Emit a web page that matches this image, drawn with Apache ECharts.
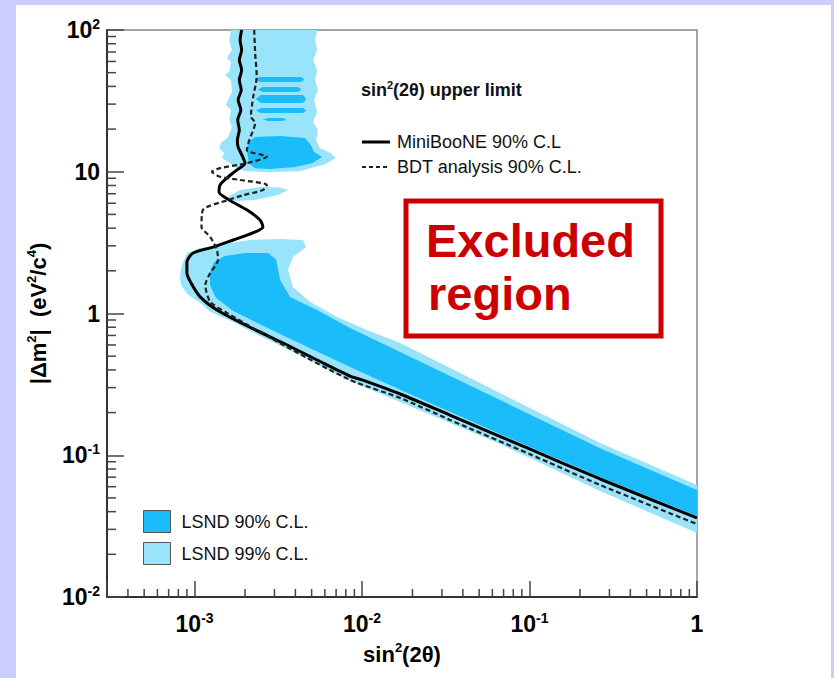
<!DOCTYPE html>
<html>
<head>
<meta charset="utf-8">
<script src="https://cdn.jsdelivr.net/npm/echarts@6/dist/echarts.min.js"></script>
<style>
  html, body { margin: 0; padding: 0; background: #ccccff; overflow: hidden; }
  #panel { position: absolute; left: 16px; top: 5px; width: 815px; height: 673px; background: #ffffff; }
  #chart { position: absolute; left: 0; top: 0; width: 834px; height: 678px; }
</style>
</head>
<body>
<div id="panel"></div>
<div id="chart"></div>
<script>
// Axis ranges: sin^2(2θ) and |Δm^2| in eV^2/c^4
const X_MIN = 3e-4, X_MAX = 1;
const Y_MIN = 0.01, Y_MAX = 100;

// Minor tick positions (2..9 within each decade)
const xMinorTicks = [4e-4, 5e-4, 6e-4, 7e-4, 8e-4, 9e-4,
  2e-3, 3e-3, 4e-3, 5e-3, 6e-3, 7e-3, 8e-3, 9e-3,
  0.02, 0.03, 0.04, 0.05, 0.06, 0.07, 0.08, 0.09,
  0.2, 0.3, 0.4, 0.5, 0.6, 0.7, 0.8, 0.9];
const yMinorTicks = [0.02, 0.03, 0.04, 0.05, 0.06, 0.07, 0.08, 0.09,
  0.2, 0.3, 0.4, 0.5, 0.6, 0.7, 0.8, 0.9,
  2, 3, 4, 5, 6, 7, 8, 9,
  20, 30, 40, 50, 60, 70, 80, 90];

// MiniBooNE 90% C.L. upper limit [sin^2(2θ), Δm^2]
const miniBooNE = [
  [1.91e-3, 100], [1.87e-3, 85], [1.91e-3, 72.3], [1.85e-3, 61.4], [1.91e-3, 52.2],
  [1.85e-3, 44.4], [1.90e-3, 37.7], [1.82e-3, 32.1], [1.89e-3, 27.3], [1.81e-3, 23.2],
  [1.85e-3, 19.7], [1.80e-3, 16.7], [1.82e-3, 14.95], [1.94e-3, 12.7], [2.00e-3, 11.5],
  [1.79e-3, 10.3], [1.585e-3, 9.18], [1.42e-3, 8.07], [1.40e-3, 7.20], [1.61e-3, 6.32],
  [2.06e-3, 5.37], [2.46e-3, 4.57], [2.56e-3, 4.08], [2.23e-3, 3.70], [1.70e-3, 3.30],
  [1.29e-3, 2.94], [0.98e-3, 2.67], [0.90e-3, 2.31], [0.90e-3, 1.93], [0.953e-3, 1.64],
  [1.08e-3, 1.31], [1.36e-3, 1.06], [2.14e-3, 0.80], [3.38e-3, 0.619], [5.39e-3, 0.470],
  [8.48e-3, 0.362], [1.0e-2, 0.340], [1.69e-2, 0.2705], [3.35e-2, 0.192], [0.1, 0.1107],
  [0.264, 0.0680], [1.0, 0.0361]
];

// BDT analysis 90% C.L. upper limit
const bdtAnalysis = [
  [2.27e-3, 100], [2.30e-3, 68.8], [2.35e-3, 46.9], [2.24e-3, 33.8], [2.17e-3, 24.5],
  [2.30e-3, 22.1], [2.12e-3, 16.7], [2.05e-3, 14.2], [2.70e-3, 12.8], [2.05e-3, 11.5],
  [1.42e-3, 10.6], [1.27e-3, 10.0], [1.42e-3, 9.23], [1.87e-3, 8.75], [2.70e-3, 8.07],
  [2.56e-3, 7.43], [1.96e-3, 6.85], [1.59e-3, 6.32], [1.12e-3, 5.37], [1.10e-3, 4.08],
  [1.24e-3, 3.47], [1.36e-3, 2.81], [1.38e-3, 2.39], [1.24e-3, 1.93], [1.16e-3, 1.59],
  [1.24e-3, 1.21], [1.56e-3, 1.01], [3.38e-3, 0.60], [8.48e-3, 0.340], [1.69e-2, 0.2535],
  [3.35e-2, 0.1774], [0.1, 0.102], [0.264, 0.0617], [1.0, 0.0327]
];

// LSND 99% C.L. allowed regions (polygon outlines)
const lsnd99Lower = [
  [8.19e-4, 1.78], [8.31e-4, 2.09], [8.66e-4, 2.39], [9.02e-4, 2.67], [1.079e-3, 2.90],
  [1.36e-3, 3.04], [2.14e-3, 3.30], [3.24e-3, 3.35], [4.45e-3, 3.30], [4.63e-3, 2.94],
  [3.87e-3, 2.50], [3.61e-3, 2.03], [3.87e-3, 1.54], [4.89e-3, 1.21], [7.09e-3, 0.945],
  [1.07e-2, 0.765], [1.69e-2, 0.619], [6.67e-2, 0.275], [0.264, 0.122], [1.0, 0.0617],
  [1.0, 0.0283], [0.264, 0.0560], [6.67e-2, 0.120], [1.69e-2, 0.2375], [8.48e-3, 0.334],
  [5.39e-3, 0.440], [3.38e-3, 0.580], [2.14e-3, 0.753], [1.70e-3, 0.871], [1.237e-3, 1.03],
  [1.079e-3, 1.19], [9.02e-4, 1.37], [8.31e-4, 1.59]
];
const lsnd99Upper = [
  [1.65e-3, 100], [1.61e-3, 85], [1.67e-3, 72.3], [1.56e-3, 63.4], [1.65e-3, 59.5],
  [1.61e-3, 50.6], [1.52e-3, 48.2], [1.65e-3, 44.4], [1.67e-3, 36.5], [1.585e-3, 32.1],
  [1.54e-3, 29.6], [1.65e-3, 27.3], [1.61e-3, 23.2], [1.67e-3, 20.4], [1.585e-3, 17.6],
  [1.44e-3, 15.95], [1.40e-3, 14.7], [1.50e-3, 13.6], [1.46e-3, 12.5], [1.63e-3, 11.5],
  [1.79e-3, 10.6], [2.00e-3, 10.1], [2.82e-3, 9.96], [4.27e-3, 10.1], [4.89e-3, 10.6],
  [6.01e-3, 11.3], [7.00e-3, 12.5], [6.44e-3, 13.6], [5.61e-3, 14.7], [5.31e-3, 16.7],
  [5.46e-3, 19.7], [5.10e-3, 22.4], [5.39e-3, 26.4], [5.17e-3, 32.1], [5.46e-3, 37.7],
  [5.24e-3, 44.4], [5.39e-3, 52.2], [5.10e-3, 61.4], [5.39e-3, 72.3], [5.24e-3, 85],
  [5.39e-3, 100]
];
const lsnd99Island = [
  [1.585e-3, 6.64], [1.87e-3, 7.43], [2.46e-3, 7.80], [3.24e-3, 7.74],
  [3.61e-3, 7.43], [3.15e-3, 6.85], [2.30e-3, 6.32], [1.75e-3, 6.22]
];

// LSND 90% C.L. allowed regions
const lsnd90Lower = [
  [1.237e-3, 1.59], [1.237e-3, 1.96], [1.31e-3, 2.31], [1.52e-3, 2.54], [2.00e-3, 2.67],
  [2.75e-3, 2.67], [3.07e-3, 2.39], [3.24e-3, 1.72], [3.72e-3, 1.31], [5.39e-3, 1.06],
  [8.48e-3, 0.790], [1.69e-2, 0.535], [6.67e-2, 0.245], [0.264, 0.112], [1.0, 0.0569],
  [1.0, 0.0373], [0.264, 0.0703], [6.67e-2, 0.141], [1.69e-2, 0.290], [8.48e-3, 0.420],
  [3.38e-3, 0.700], [1.70e-3, 1.04], [1.34e-3, 1.29]
];
const lsnd90Blob = [
  [2.08e-3, 16.2], [2.30e-3, 17.6], [3.24e-3, 17.9], [4.57e-3, 17.3], [4.96e-3, 15.4],
  [5.17e-3, 13.8], [5.77e-3, 12.7], [5.03e-3, 11.5], [3.98e-3, 10.8], [2.82e-3, 10.46],
  [2.30e-3, 10.6], [2.11e-3, 11.5], [2.06e-3, 13.8]
];
// narrow bands: [sin2 low, sin2 high, dm2 low, dm2 high]
const lsnd90Stripes = [
  [2.36e-3, 4.45e-3, 42.9, 46.6],
  [2.46e-3, 4.27e-3, 36.5, 39.6],
  [2.39e-3, 4.57e-3, 30.5, 34.8],
  [2.39e-3, 4.57e-3, 26.0, 28.2],
  [2.64e-3, 3.47e-3, 22.8, 23.9]
];

const FONT = '"Liberation Sans", Arial, Helvetica, sans-serif';
const COLOR_90 = '#1abcfa';
const COLOR_99 = '#99e4fa';

const regions99 = [lsnd99Lower, lsnd99Upper, lsnd99Island];
// stripes become slim hexagons with pointed ends
const regions90 = [lsnd90Lower, lsnd90Blob].concat(
  lsnd90Stripes.map(([x1, x2, y1, y2]) => {
    const ym = Math.sqrt(y1 * y2);
    return [[x1 * 0.97, ym], [x1 * 1.04, y2], [x2 * 0.97, y2], [x2 * 1.02, ym], [x2 * 0.97, y1], [x1 * 1.04, y1]];
  })
);

const tickMarks = xMinorTicks.map(v => [v, Y_MIN, 0])
  .concat(yMinorTicks.map(v => [X_MIN, v, 1]));

function powerLabel(v) {
  const lg = Math.log10(v);
  const e = Math.round(lg);
  if (Math.abs(lg - e) > 1e-6) return '';
  if (e === 0) return '{b|1}';
  if (e === 1) return '{b|10}';
  return '{b|10}{s|' + e + '}';
}

const labelRich = {
  b: { fontFamily: FONT, fontSize: 23, fontWeight: 'bold', color: '#000', lineHeight: 26 },
  s: { fontFamily: FONT, fontSize: 14, fontWeight: 'bold', color: '#000', verticalAlign: 'top', lineHeight: 16 }
};
const nameRich = {
  b: { fontFamily: FONT, fontSize: 22, fontWeight: 'bold', color: '#000', lineHeight: 26 },
  s: { fontFamily: FONT, fontSize: 13, fontWeight: 'bold', color: '#000', verticalAlign: 'top', lineHeight: 15 }
};

function regionRenderer(regions, color) {
  return function (params, api) {
    const poly = regions[params.dataIndex];
    return {
      type: 'polygon',
      shape: { points: poly.map(p => api.coord(p)) },
      style: { fill: color, stroke: null }
    };
  };
}

const legendText = { fontFamily: FONT, fontSize: 18, fill: '#111', verticalAlign: 'middle' };

const chart = echarts.init(document.getElementById('chart'), null, { renderer: 'svg' });

chart.setOption({
  backgroundColor: 'transparent',
  animation: false,
  grid: {
    left: 107, top: 30, width: 590, height: 567,
    show: true, borderColor: '#888', borderWidth: 1.5, backgroundColor: 'transparent'
  },
  xAxis: {
    type: 'log', logBase: 10, min: X_MIN, max: X_MAX,
    axisLine: { show: true, onZero: false, lineStyle: { color: '#333', width: 2 } },
    axisTick: { show: true, inside: true, length: 16, lineStyle: { color: '#444', width: 1.5 } },
    axisLabel: { formatter: powerLabel, margin: 14, rich: labelRich },
    splitLine: { show: false },
    name: '{b|sin}{s|2}{b|(2θ)}',
    nameLocation: 'middle', nameGap: 44,
    nameTextStyle: { rich: nameRich }
  },
  yAxis: {
    type: 'log', logBase: 10, min: Y_MIN, max: Y_MAX,
    axisLine: { show: true, onZero: false, lineStyle: { color: '#333', width: 2 } },
    axisTick: { show: true, inside: true, length: 17, lineStyle: { color: '#444', width: 1.5 } },
    axisLabel: { formatter: powerLabel, margin: 7, rich: labelRich },
    splitLine: { show: false },
    name: '{b|\u007CΔm}{s|2}{b|\u007C  (eV}{s|2}{b|/c}{s|4}{b|)}',
    nameLocation: 'middle', nameGap: 56,
    nameTextStyle: { rich: nameRich }
  },
  legend: [
    {
      data: [{ name: 'LSND 90% C.L.', icon: 'rect' }, { name: 'LSND 99% C.L.', icon: 'rect' }],
      orient: 'vertical', left: 143, top: 510, padding: 0, itemGap: 9,
      itemWidth: 27, itemHeight: 22,
      itemStyle: { borderColor: '#555', borderWidth: 1 },
      textStyle: { fontFamily: FONT, fontSize: 18, color: '#111', padding: [0, 0, 0, 6] }
    }
  ],
  graphic: [
    {
      type: 'text', x: 361, y: 90, silent: true,
      style: {
        text: '{b|sin}{s|2}{b|(2θ) upper limit}',
        verticalAlign: 'middle',
        rich: {
          b: { fontFamily: FONT, fontSize: 18, fontWeight: 'bold', fill: '#111', lineHeight: 21 },
          s: { fontFamily: FONT, fontSize: 11, fontWeight: 'bold', fill: '#111', verticalAlign: 'top', lineHeight: 12 }
        }
      }
    },
    // key for the two limit curves
    {
      type: 'line', silent: true,
      shape: { x1: 362, y1: 142, x2: 390, y2: 142 },
      style: { stroke: '#000', lineWidth: 3 }
    },
    {
      type: 'text', x: 397, y: 142, silent: true,
      style: Object.assign({ text: 'MiniBooNE 90% C.L' }, legendText)
    },
    {
      type: 'line', silent: true,
      shape: { x1: 362, y1: 167, x2: 390, y2: 167 },
      style: { stroke: '#222', lineWidth: 2, lineDash: [4, 3] }
    },
    {
      type: 'text', x: 397, y: 167, silent: true,
      style: Object.assign({ text: 'BDT analysis 90% C.L.' }, legendText)
    },
    {
      type: 'rect', silent: true,
      shape: { x: 406, y: 201, width: 255, height: 135 },
      style: { fill: 'transparent', stroke: '#cc0000', lineWidth: 5 }
    },
    {
      type: 'text', x: 426, y: 240, silent: true,
      style: { text: 'Excluded', fontFamily: FONT, fontSize: 47, fontWeight: 'bold', fill: '#cc0000', verticalAlign: 'middle' }
    },
    {
      type: 'text', x: 428, y: 293, silent: true,
      style: { text: 'region', fontFamily: FONT, fontSize: 47, fontWeight: 'bold', fill: '#cc0000', verticalAlign: 'middle' }
    }
  ],
  series: [
    {
      name: 'LSND 99% C.L.', type: 'custom', clip: true,
      itemStyle: { color: COLOR_99 },
      renderItem: regionRenderer(regions99, COLOR_99),
      data: regions99.map((_, i) => [i]),
      encode: { x: -1, y: -1 },
      silent: true, z: 1
    },
    {
      name: 'LSND 90% C.L.', type: 'custom', clip: true,
      itemStyle: { color: COLOR_90 },
      renderItem: regionRenderer(regions90, COLOR_90),
      data: regions90.map((_, i) => [i]),
      encode: { x: -1, y: -1 },
      silent: true, z: 2
    },
    {
      name: 'minor ticks', type: 'custom', silent: true, z: 5,
      renderItem: function (params, api) {
        const p = api.coord([api.value(0), api.value(1)]);
        const vertical = api.value(2) === 0;
        return {
          type: 'line',
          shape: vertical
            ? { x1: p[0], y1: p[1], x2: p[0], y2: p[1] - 8 }
            : { x1: p[0], y1: p[1], x2: p[0] + 9, y2: p[1] },
          style: { stroke: '#444', lineWidth: 1.5 }
        };
      },
      data: tickMarks
    },
    {
      name: 'MiniBooNE 90% C.L', type: 'line', data: miniBooNE,
      showSymbol: false, symbol: 'none', smooth: 0.25, z: 4,
      lineStyle: { color: '#000', width: 3 }, itemStyle: { color: '#000' }
    },
    {
      name: 'BDT analysis 90% C.L.', type: 'line', data: bdtAnalysis,
      showSymbol: false, symbol: 'none', smooth: 0.25, z: 4,
      lineStyle: { color: '#222', width: 2.2, type: [5, 3] }, itemStyle: { color: '#222' }
    }
  ]
});
</script>
</body>
</html>
